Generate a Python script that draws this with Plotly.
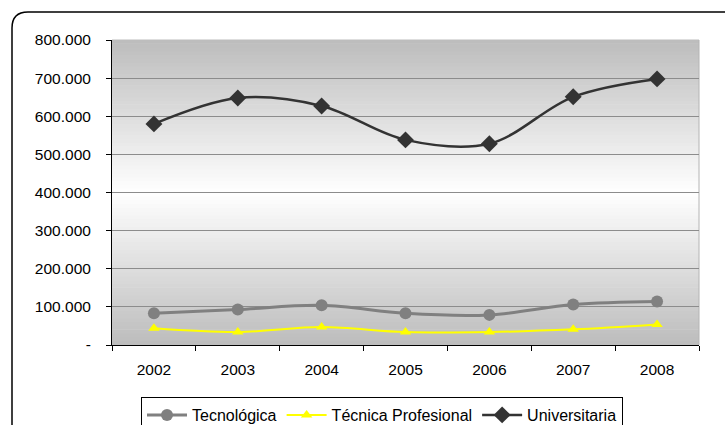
import plotly.graph_objects as go

# Enrolment by type of higher-education programme
years = ["2002", "2003", "2004", "2005", "2006", "2007", "2008"]
tecnologica = [83000, 93000, 104000, 83000, 79000, 106000, 114000]
tecnica_profesional = [44000, 34000, 47000, 34000, 34000, 41000, 54000]
universitaria = [580000, 648000, 627000, 538000, 528000, 651000, 698000]

y_tick_values = [0, 100000, 200000, 300000, 400000, 500000, 600000, 700000, 800000]
y_tick_labels = ["-", "100.000", "200.000", "300.000", "400.000",
                 "500.000", "600.000", "700.000", "800.000"]

W, H = 725, 425
L, R, T, B = 112, 699, 40, 345  # plot area in pixels
FONT = dict(family="Liberation Sans, Arial, sans-serif", size=15.5, color="black")
LEGEND_FONT = dict(family="Liberation Sans, Arial, sans-serif", size=16, color="black")


def px_x(px):
    return (px - L) / (R - L)


def px_y(py):
    return (B - py) / (B - T)


fig = go.Figure()

fig.add_trace(go.Scatter(
    x=years, y=tecnologica, name="Tecnológica", mode="lines+markers",
    line=dict(color="#808080", width=3, shape="spline", smoothing=1),
    marker=dict(symbol="circle", size=12, color="#808080"),
))
fig.add_trace(go.Scatter(
    x=years, y=tecnica_profesional, name="Técnica Profesional", mode="lines+markers",
    line=dict(color="#ffff00", width=2, shape="spline", smoothing=1),
    marker=dict(symbol="triangle-up", size=10, color="#ffff00"),
))
fig.add_trace(go.Scatter(
    x=years, y=universitaria, name="Universitaria", mode="lines+markers",
    line=dict(color="#333333", width=2.5, shape="spline", smoothing=1),
    marker=dict(symbol="diamond", size=13, color="#333333"),
))

shapes = []
# grey-white-grey vertical gradient behind the plot
n = 80
for i in range(n):
    t = abs((i + 0.5) / n - 0.5) * 2
    g = int(round(255 - (255 - 188) * t))
    shapes.append(dict(
        type="rect", xref="x domain", yref="y domain",
        x0=0, x1=1, y0=i / n, y1=(i + 1) / n + 0.002,
        fillcolor=f"rgb({g},{g},{g})", line=dict(width=0), layer="below",
    ))
# faint right edge of the plot area
shapes.append(dict(type="line", xref="x domain", yref="y domain",
                   x0=1, x1=1, y0=0, y1=1, line=dict(color="#b4b4b4", width=1),
                   layer="below"))

# rounded outer chart frame
x0, y0, x1, y1, r = 12, 12, 745, 450, 16
path = (
    f"M {px_x(x0)},{px_y(y0 + r)} "
    f"Q {px_x(x0)},{px_y(y0)} {px_x(x0 + r)},{px_y(y0)} "
    f"L {px_x(x1 - r)},{px_y(y0)} "
    f"Q {px_x(x1)},{px_y(y0)} {px_x(x1)},{px_y(y0 + r)} "
    f"L {px_x(x1)},{px_y(y1 - r)} "
    f"Q {px_x(x1)},{px_y(y1)} {px_x(x1 - r)},{px_y(y1)} "
    f"L {px_x(x0 + r)},{px_y(y1)} "
    f"Q {px_x(x0)},{px_y(y1)} {px_x(x0)},{px_y(y1 - r)} Z"
)
shapes.append(dict(type="path", xref="paper", yref="paper", path=path,
                   line=dict(color="black", width=1.5), fillcolor="rgba(0,0,0,0)"))

fig.update_layout(
    width=W, height=H,
    margin=dict(l=L, r=W - R, t=T, b=H - B, pad=0, autoexpand=False),
    paper_bgcolor="white",
    plot_bgcolor="rgba(0,0,0,0)",
    font=FONT,
    shapes=shapes,
    showlegend=True,
    legend=dict(
        orientation="h", x=px_x(382), xanchor="center", y=px_y(397), yanchor="top",
        bordercolor="black", borderwidth=1, bgcolor="white", font=LEGEND_FONT,
        itemwidth=40, tracegroupgap=0,
    ),
    xaxis=dict(
        type="category", range=[-0.5, 6.5], tickson="boundaries",
        ticks="outside", ticklen=5, tickcolor="black", tickwidth=1,
        showline=True, linecolor="black", linewidth=1, showgrid=False,
        ticklabelstandoff=10, tickfont=FONT, zeroline=False,
    ),
    yaxis=dict(
        range=[0, 800000], tickvals=y_tick_values, ticktext=y_tick_labels,
        ticks="outside", ticklen=5, tickcolor="black", tickwidth=1,
        showline=True, linecolor="black", linewidth=1,
        showgrid=True, gridcolor="#8c8c8c", gridwidth=1, zeroline=False,
        ticklabelstandoff=12, tickfont=FONT,
    ),
)

fig.write_html("out.html")
